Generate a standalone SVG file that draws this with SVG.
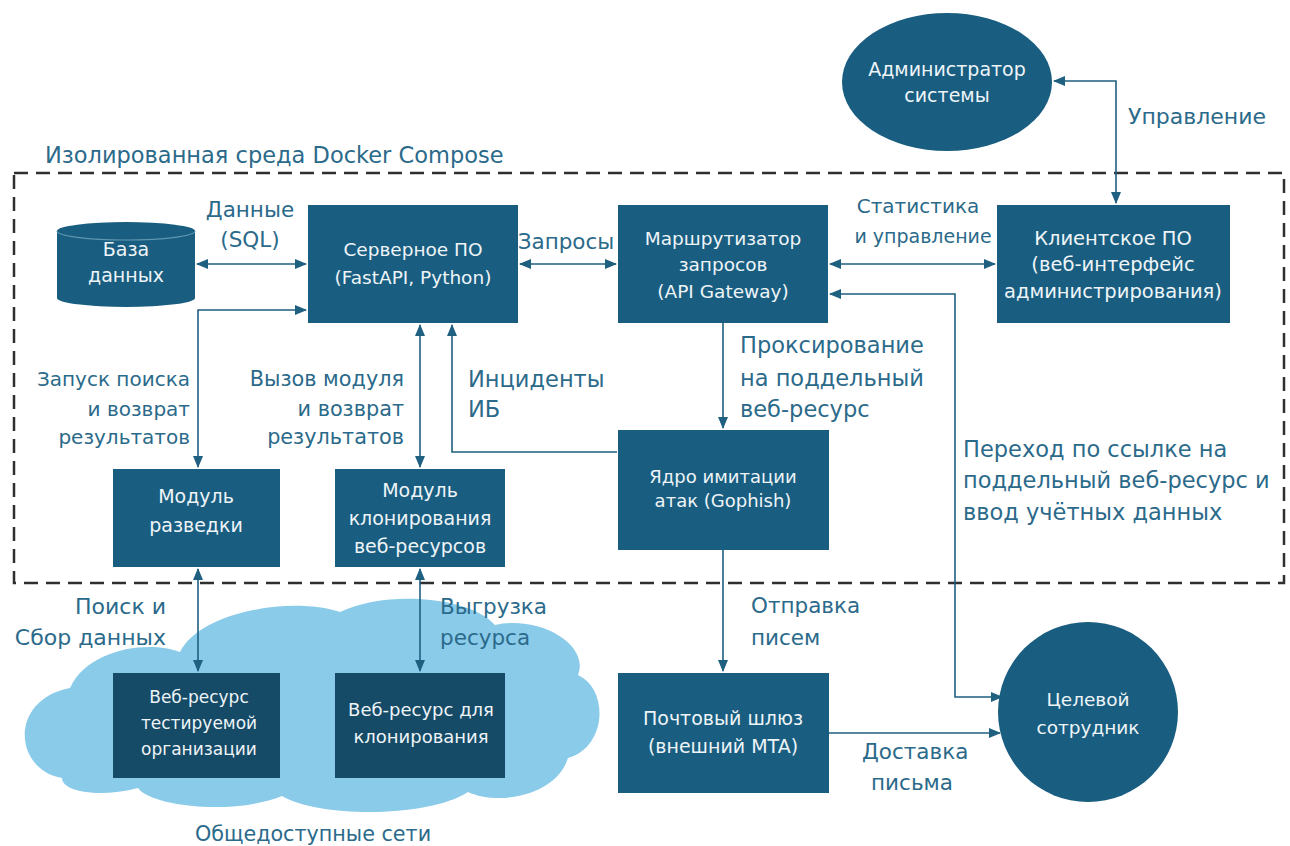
<svg xmlns="http://www.w3.org/2000/svg" width="1290" height="846" viewBox="0 0 1290 846">
<style>
.node{fill:#195e80}
.dark{fill:#154b66}
.nt{font-family:"DejaVu Sans","Liberation Sans",sans-serif;font-size:18.5px;fill:#eef4f8;text-anchor:middle}
.lb{font-family:"DejaVu Sans","Liberation Sans",sans-serif;font-size:21.5px;fill:#2b6a8a}
.r{text-anchor:end}
.m{text-anchor:middle}
.ln{fill:none;stroke:#1f5f80;stroke-width:1.6}
</style>
<defs>
<marker id="ah" viewBox="0 0 12 10" refX="11" refY="5" markerWidth="12" markerHeight="10" markerUnits="userSpaceOnUse" orient="auto-start-reverse">
<path d="M0,0 L12,5 L0,10 Z" fill="#1f5f80"/>
</marker>
</defs>
<rect width="1290" height="846" fill="#ffffff"/>

<g id="cloud">
<path d="M62,778 C14,770 8,700 70,688 C88,648 150,640 180,652 C200,612 290,596 340,612 C385,590 470,596 495,625 C540,615 590,645 578,675 C610,690 606,748 568,758 C556,796 498,806 468,792 C428,818 320,818 282,796 C232,816 150,806 138,788 C100,798 62,792 62,778 Z" fill="#8acbea"/>
<text class="lb m" x="313" y="841" style="font-size:20.7px">Общедоступные сети</text>
</g>

<g id="container">
<rect x="14" y="173" width="1270" height="410" fill="none" stroke="#2f2f2f" stroke-width="2.5" stroke-dasharray="14 8"/>
<text class="lb" x="45" y="163" style="font-size:22.5px">Изолированная среда Docker Compose</text>
</g>

<g id="connectors">
<path class="ln" d="M197,264 H306" marker-start="url(#ah)" marker-end="url(#ah)"/>
<path class="ln" d="M520,264 H616" marker-start="url(#ah)" marker-end="url(#ah)"/>
<path class="ln" d="M830,264 H995" marker-start="url(#ah)" marker-end="url(#ah)"/>
<path class="ln" d="M1054,81 H1116 V203" marker-start="url(#ah)" marker-end="url(#ah)"/>
<path class="ln" d="M306,310 H198 V467" marker-start="url(#ah)" marker-end="url(#ah)"/>
<path class="ln" d="M420,325 V467" marker-start="url(#ah)" marker-end="url(#ah)"/>
<path class="ln" d="M617,452 H452 V325" marker-end="url(#ah)"/>
<path class="ln" d="M723,323 V428" marker-end="url(#ah)"/>
<path class="ln" d="M723,550 V671" marker-end="url(#ah)"/>
<path class="ln" d="M198,569 V671" marker-start="url(#ah)" marker-end="url(#ah)"/>
<path class="ln" d="M420,569 V671" marker-start="url(#ah)" marker-end="url(#ah)"/>
<path class="ln" d="M830,294 H955 V697 H1002" marker-start="url(#ah)" marker-end="url(#ah)"/>
<path class="ln" d="M829,733 H1000" marker-end="url(#ah)"/>
<text class="lb m" x="250" y="217">Данные</text>
<text class="lb m" x="250" y="247">(SQL)</text>
<text class="lb m" x="566" y="249">Запросы</text>
<text class="lb m" x="918" y="213" style="font-size:20px">Статистика</text>
<text class="lb m" x="923" y="243" style="font-size:19px">и управление</text>
<text class="lb" x="1128" y="124" style="font-size:22px">Управление</text>
<g style="font-size:20px">
<text class="lb r" x="190" y="386" style="font-size:20px">Запуск поиска</text>
<text class="lb r" x="190" y="416" style="font-size:20px">и возврат</text>
<text class="lb r" x="190" y="444" style="font-size:20px">результатов</text>
<text class="lb r" x="404" y="386" style="font-size:20.8px">Вызов модуля</text>
<text class="lb r" x="404" y="416" style="font-size:20.8px">и возврат</text>
<text class="lb r" x="404" y="444" style="font-size:20.8px">результатов</text>
</g>
<text class="lb" x="468" y="387" style="font-size:22.5px">Инциденты</text>
<text class="lb" x="468" y="417" style="font-size:22.5px">ИБ</text>
<text class="lb" x="740" y="353" style="font-size:22.5px">Проксирование</text>
<text class="lb" x="740" y="386" style="font-size:22.5px">на поддельный</text>
<text class="lb" x="740" y="417" style="font-size:22.5px">веб-ресурс</text>
<text class="lb" x="963" y="457" style="font-size:22.5px">Переход по ссылке на</text>
<text class="lb" x="963" y="488" style="font-size:22.5px">поддельный веб-ресурс и</text>
<text class="lb" x="963" y="520" style="font-size:22.5px">ввод учётных данных</text>
<text class="lb r" x="166" y="614" style="font-size:22px">Поиск и</text>
<text class="lb r" x="166" y="645" style="font-size:22px">Сбор данных</text>
<text class="lb" x="440" y="614">Выгрузка</text>
<text class="lb" x="440" y="645">ресурса</text>
<text class="lb" x="751" y="613">Отправка</text>
<text class="lb" x="751" y="645">писем</text>
<text class="lb" x="862" y="759">Доставка</text>
<text class="lb m" x="912" y="790">письма</text>
</g>

<g id="db">
<path class="node" d="M57,231 A69,9 0 0 1 195,231 V298 A69,9 0 0 1 57,298 Z"/>
<path d="M57,231 A69,9 0 0 0 195,231" fill="none" stroke="#5f95b0" stroke-width="1.2"/>
<text class="nt" x="126" y="256" style="font-size:19px">База</text>
<text class="nt" x="126" y="282" style="font-size:19px">данных</text>
</g>

<g id="server">
<rect class="node" x="308" y="205" width="210" height="118"/>
<text class="nt" x="413" y="256">Серверное ПО</text>
<text class="nt" x="413" y="284">(FastAPI, Python)</text>
</g>

<g id="router">
<rect class="node" x="618" y="205" width="210" height="118"/>
<text class="nt" x="723" y="245">Маршрутизатор</text>
<text class="nt" x="723" y="271">запросов</text>
<text class="nt" x="723" y="298">(API Gateway)</text>
</g>

<g id="client">
<rect class="node" x="997" y="205" width="233" height="118"/>
<text class="nt" x="1113" y="245" style="font-size:19.5px">Клиентское ПО</text>
<text class="nt" x="1113" y="271" style="font-size:19.5px">(веб-интерфейс</text>
<text class="nt" x="1113" y="298" style="font-size:19.5px">администрирования)</text>
</g>

<g id="admin">
<ellipse class="node" cx="947" cy="82" rx="105" ry="69"/>
<text class="nt" x="947" y="76" style="font-size:19px">Администратор</text>
<text class="nt" x="947" y="102" style="font-size:19px">системы</text>
</g>

<g id="recon">
<rect class="node" x="113" y="469" width="167" height="98"/>
<text class="nt" x="196" y="503" style="font-size:19px">Модуль</text>
<text class="nt" x="196" y="532" style="font-size:19px">разведки</text>
</g>

<g id="cloner">
<rect class="node" x="335" y="469" width="170" height="98"/>
<text class="nt" x="420" y="497" style="font-size:19px">Модуль</text>
<text class="nt" x="420" y="525" style="font-size:19px">клонирования</text>
<text class="nt" x="420" y="553" style="font-size:19px">веб-ресурсов</text>
</g>

<g id="core">
<rect class="node" x="618" y="430" width="211" height="120"/>
<text class="nt" x="723" y="483" style="font-size:18px">Ядро имитации</text>
<text class="nt" x="723" y="507" style="font-size:18px">атак (Gophish)</text>
</g>

<g id="mta">
<rect class="node" x="618" y="673" width="211" height="120"/>
<text class="nt" x="723" y="725" style="font-size:19px">Почтовый шлюз</text>
<text class="nt" x="723" y="753" style="font-size:19px">(внешний MTA)</text>
</g>

<g id="target">
<ellipse class="node" cx="1088" cy="712" rx="90" ry="90"/>
<text class="nt" x="1088" y="706">Целевой</text>
<text class="nt" x="1088" y="734">сотрудник</text>
</g>

<g id="web-org">
<rect class="dark" x="113" y="673" width="167" height="105"/>
<text class="nt" x="199" y="703" style="font-size:17px">Веб-ресурс</text>
<text class="nt" x="199" y="729" style="font-size:17px">тестируемой</text>
<text class="nt" x="199" y="755" style="font-size:17px">организации</text>
</g>

<g id="web-clone">
<rect class="dark" x="335" y="673" width="170" height="105"/>
<text class="nt" x="421" y="716" style="font-size:18px">Веб-ресурс для</text>
<text class="nt" x="421" y="743" style="font-size:18px">клонирования</text>
</g>
</svg>
